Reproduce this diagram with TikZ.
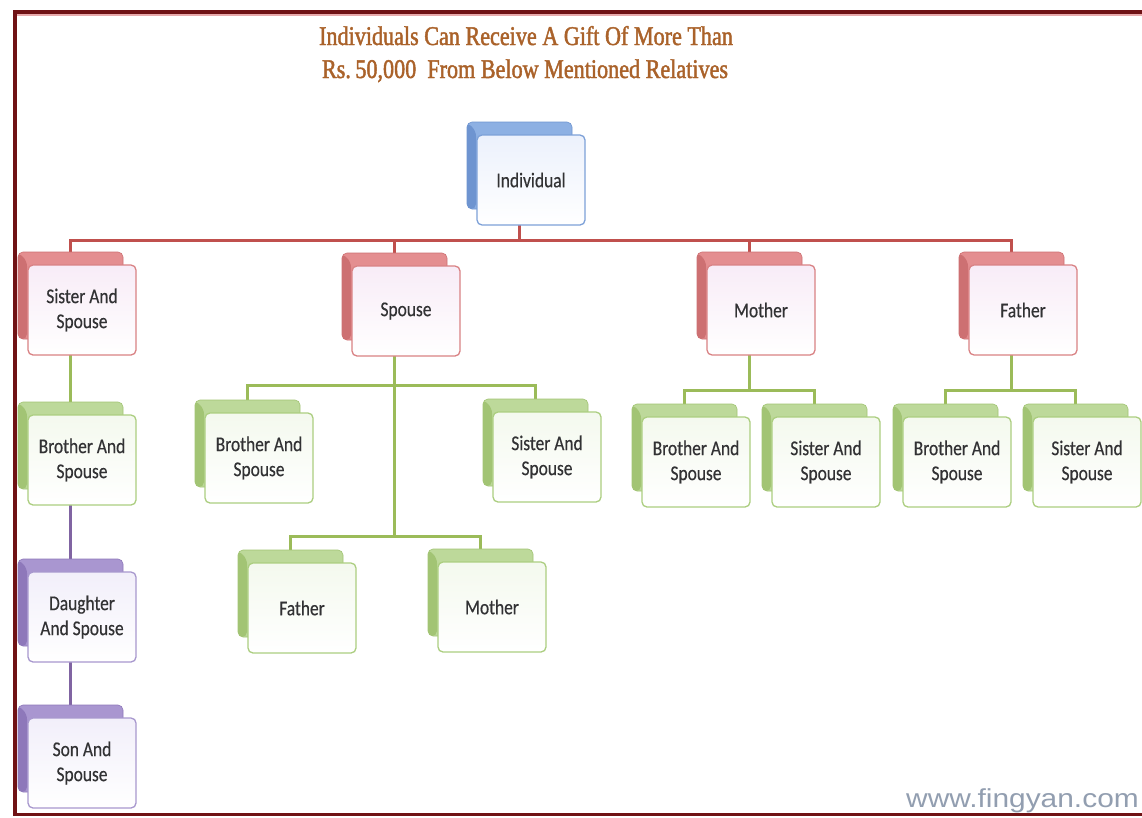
\documentclass[tikz,border=0pt]{standalone}
\usepackage{fontspec}
\usetikzlibrary{backgrounds}

\newfontfamily\boxfont[FakeStretch=0.83,FakeBold=0.4]{Carlito}
\newfontfamily\titlefont[FakeStretch=0.82,FakeBold=1.6]{Liberation Serif}
\newfontfamily\webfont[FakeStretch=1.15]{Liberation Sans}

% colour schemes: rs = red, bs = blue, gs = green, ps = purple
\definecolor{rstint}{RGB}{248,236,247}
\definecolor{rsedge}{RGB}{217,130,132}
\definecolor{rsback}{RGB}{228,142,144}
\definecolor{rsbevel}{RGB}{205,112,114}
\definecolor{bstint}{RGB}{236,241,252}
\definecolor{bsedge}{RGB}{125,161,216}
\definecolor{bsback}{RGB}{141,176,227}
\definecolor{bsbevel}{RGB}{110,148,208}
\definecolor{gstint}{RGB}{244,249,238}
\definecolor{gsedge}{RGB}{172,206,128}
\definecolor{gsback}{RGB}{189,217,154}
\definecolor{gsbevel}{RGB}{162,196,116}
\definecolor{pstint}{RGB}{242,239,250}
\definecolor{psedge}{RGB}{168,152,206}
\definecolor{psback}{RGB}{169,150,208}
\definecolor{psbevel}{RGB}{142,120,186}
\definecolor{redlink}{RGB}{192,80,77}
\definecolor{greenlink}{RGB}{155,187,89}
\definecolor{purplelink}{RGB}{128,100,162}
\definecolor{boxtext}{RGB}{50,50,52}
\definecolor{titlebrown}{RGB}{170,98,42}
\definecolor{webgray}{RGB}{146,158,176}
\definecolor{framered}{RGB}{112,18,21}
\definecolor{framepink}{RGB}{232,170,172}

\tikzset{
  front/.style={rounded corners=5pt, draw=#1edge, line width=1.3pt,
    top color=#1tint, bottom color=white,
    minimum width=108pt, minimum height=90pt, inner sep=2pt,
    align=center, text=boxtext, font=\boxfont\fontsize{21}{25}\selectfont},
  back/.style={rounded corners=5pt, draw=#1bevel, line width=0.6pt,
    fill=#1back, minimum width=105pt, minimum height=87pt, inner sep=0pt,
    path picture={\fill[#1bevel] (path picture bounding box.north west)
      -- ++(9pt,-9pt) -- ([xshift=9pt]path picture bounding box.south west)
      -- (path picture bounding box.south west) -- cycle;}},
  link/.style={line width=3pt, draw=#1},
}

% a relative: shadow card behind, label card in front
\newcommand{\famnode}[5]{%
  \node[back=#4] (#1-b) at (#2-11.5,#3-14.5) {};
  \node[front=#4] (#1) at (#2,#3) {#5};
}

\begin{document}
\begin{tikzpicture}[x=1pt,y=-1pt]
\useasboundingbox (0,0) rectangle (1142,817);

% title
\node[anchor=base, font=\titlefont\fontsize{27}{33}\selectfont, text=titlebrown]
  (title1) at (526,45) {Individuals Can Receive A Gift Of More Than};
\node[anchor=base, font=\titlefont\fontsize{27}{33}\selectfont, text=titlebrown]
  (title2) at (525,78) {Rs.\,50,000~~From Below Mentioned Relatives};

% relatives
\famnode{ind}{531}{180}{bs}{Individual}
\famnode{sis}{82}{310}{rs}{Sister And\\Spouse}
\famnode{spo}{406}{311}{rs}{Spouse}
\famnode{mot}{761}{310}{rs}{Mother}
\famnode{fat}{1023}{310}{rs}{Father}
\famnode{bro}{82}{460}{gs}{Brother And\\Spouse}
\famnode{dau}{82}{617}{ps}{Daughter\\And Spouse}
\famnode{son}{82}{763}{ps}{Son And\\Spouse}
\famnode{spbro}{259}{458}{gs}{Brother And\\Spouse}
\famnode{spsis}{547}{457}{gs}{Sister And\\Spouse}
\famnode{spfat}{302}{608}{gs}{Father}
\famnode{spmot}{492}{607}{gs}{Mother}
\famnode{mbro}{696}{462}{gs}{Brother And\\Spouse}
\famnode{msis}{826}{462}{gs}{Sister And\\Spouse}
\famnode{fbro}{957}{462}{gs}{Brother And\\Spouse}
\famnode{fsis}{1087}{462}{gs}{Sister And\\Spouse}

% connectors behind the cards
\begin{scope}[on background layer]
  \fill[white] (0,0) rectangle (1142,817);
  \coordinate (busI) at (0,240);
  \coordinate (busS1) at (0,385);
  \coordinate (busS2) at (0,536);
  \coordinate (busM) at (0,390);

  \draw[link=redlink] (ind-b.center) |- (sis-b.center |- busI) -- (sis-b.center);
  \draw[link=redlink] (ind-b.center) |- (fat-b.center |- busI) -- (fat-b.center);
  \draw[link=redlink] (spo-b.center |- busI) -- (spo-b.center);
  \draw[link=redlink] (mot-b.center |- busI) -- (mot-b.center);

  \draw[link=greenlink] (sis-b.center) -- (bro-b.center);
  \draw[link=purplelink] (bro-b.center) -- (dau-b.center);
  \draw[link=purplelink] (dau-b.center) -- (son-b.center);

  \draw[link=greenlink] (spo-b.center) -- (spo-b.center |- busS2);
  \draw[link=greenlink] (spbro-b.center) |- (spsis-b.center |- busS1) -- (spsis-b.center);
  \draw[link=greenlink] (spfat-b.center) |- (spmot-b.center |- busS2) -- (spmot-b.center);

  \draw[link=greenlink] (mot-b.center) -- (mot-b.center |- busM);
  \draw[link=greenlink] (mbro-b.center) |- (msis-b.center |- busM) -- (msis-b.center);
  \draw[link=greenlink] (fat-b.center) -- (fat-b.center |- busM);
  \draw[link=greenlink] (fbro-b.center) |- (fsis-b.center |- busM) -- (fsis-b.center);
\end{scope}

% site address
\node[anchor=base east, inner sep=0pt, font=\webfont\fontsize{26}{28}\selectfont, text=webgray]
  (web) at (1139,807) {www.fingyan.com};

% frame, open on the right
\draw[framepink, line width=2pt] (16,14.5) -- (1142,14.5);
\draw[framered, line width=3.8pt] (1142,12) -- (15,12) -- (15,814.5) -- (1142,814.5);
\end{tikzpicture}
\end{document}
